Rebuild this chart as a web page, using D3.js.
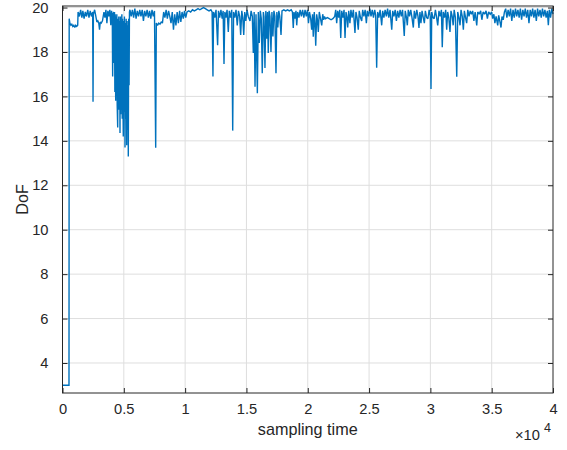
<!DOCTYPE html>
<html>
<head>
<meta charset="utf-8">
<script src="https://cdn.jsdelivr.net/npm/d3@7"></script>
<style>
  body { margin: 0; background: #fff; }
  text { font-family: "Liberation Sans", Arial, Helvetica, sans-serif; fill: #262626; }
</style>
</head>
<body>
<svg id="chart" width="567" height="450"></svg>
<script>
"use strict";

// DoF over sampling time as [sample, dof]
var dofSeries = [
  [0,3],[530,3],[545,19.5],[600,19.3],[680,19.2],[760,19.25],[840,19.15],[920,19.2],[1000,19.1],[1080,19.2],[1160,19.15],[1240,19.2],
  [1270,19.8],[1380,19.6],[1480,19.9],[1580,19.55],[1660,19.85],[1760,19.5],[1860,19.8],[1960,19.6],[2060,19.9],[2160,19.55],[2260,19.85],[2360,19.6],[2460,19.8],
  [2490,15.76],[2520,19.7],[2620,19.9],[2720,19.6],[2800,19.35],[2880,19.4],[2960,19.3],[3020,19.0],[3080,19.35],[3160,19.3],[3260,19.4],
  [3380,19.8],[3460,19.55],[3540,19.9],[3620,19.3],[3700,19.85],[3780,19.6],[3860,19.9],[3940,19.2],[4000,19.85],[4060,19.6],
  [4090,16.9],[4120,19.7],[4180,19.8],[4210,17.5],[4240,19.8],[4270,16.2],[4300,19.7],[4338,15.8],[4370,19.6],[4400,16.5],[4430,19.7],[4460,15.6],
  [4501,14.6],[4530,19.5],[4560,16.0],[4590,19.6],[4620,15.4],[4650,19.4],[4689,14.35],[4720,19.6],[4750,15.2],[4780,19.3],[4810,16.0],[4840,19.7],
  [4870,15.0],[4900,19.5],[4930,15.8],[4958,14.2],[4990,19.4],[5020,15.3],[5050,19.6],[5097,13.7],[5130,19.3],[5160,15.0],[5190,19.5],[5235,13.8],
  [5270,19.4],[5300,14.5],[5330,19.2],[5366,13.3],[5400,19.5],[5430,16.5],[5460,19.8],
  [5500,19.9],[5600,19.6],[5700,19.9],[5800,19.55],[5900,19.95],[6000,19.5],[6100,19.85],[6200,19.6],[6300,19.9],[6400,19.6],[6500,19.9],[6600,19.4],
  [6700,19.85],[6800,19.6],[6900,19.9],[7000,19.55],[7100,19.85],[7200,19.5],[7300,19.9],[7400,19.6],[7500,19.85],
  [7600,13.69],[7650,19.3],[7750,19.2],[7850,19.3],[7950,19.25],[8050,19.35],[8150,19.3],
  [8250,19.8],[8350,19.55],[8450,19.9],[8550,19.5],[8650,19.85],[8750,19.6],[8850,19.3],[8950,19.8],[9050,19.0],[9150,19.7],[9250,19.2],[9350,19.8],
  [9450,19.3],[9550,19.85],[9650,19.35],[9750,19.8],[9850,19.5],[9950,19.85],[10050,19.55],[10150,19.8],
  [10300,19.85],[10450,19.8],[10600,19.9],[10750,19.85],[10900,19.9],[11050,19.95],[11200,19.9],[11350,19.95],[11500,20.0],[11650,19.95],[11800,19.9],
  [11950,19.85],[12100,19.9],[12200,19.8],
  [12270,16.9],[12320,19.8],[12420,19.55],[12520,19.9],[12650,18.3],[12720,19.85],[12820,19.55],[12920,19.9],[13020,19.5],[13100,19.85],[13170,17.46],
  [13240,19.8],[13330,19.55],[13420,19.9],[13520,18.9],[13600,19.85],[13700,19.55],[13800,19.9],[13880,14.46],[13950,19.8],[14050,19.55],[14150,19.9],
  [14250,19.2],[14350,19.85],[14450,19.6],[14530,18.77],[14620,19.85],[14700,19.55],[14780,18.77],[14860,19.8],[14950,19.4],[15050,19.9],[15150,19.6],
  [15290,19.4],[15380,19.85],[15480,19.6],[15560,17.95],[15630,19.8],[15700,16.44],[15780,19.7],[15890,16.14],[15970,19.8],[16050,18.4],[16130,19.85],
  [16210,19.5],[16290,17.04],[16380,19.8],[16430,19.6],[16510,17.28],[16580,19.85],[16660,18.6],[16720,19.8],[16780,17.95],[16850,19.85],[16920,19.6],
  [17000,18.0],[17080,19.8],[17160,18.7],[17240,19.85],[17320,19.6],[17410,17.04],[17480,19.8],[17560,19.1],[17640,19.85],[17720,19.6],[17820,18.77],
  [17900,19.85],[18050,19.9],[18200,19.85],[18350,19.9],[18500,19.85],[18650,19.9],[18750,19.8],[18820,19.08],[18880,19.8],[18960,19.5],[19040,19.85],
  [19100,19.2],[19180,19.8],[19280,19.55],[19380,19.9],[19480,19.6],[19580,19.9],[19680,19.55],[19780,19.9],[19880,19.6],[19980,19.9],
  [20060,19.3],[20140,19.8],[20240,19.5],[20320,19.0],[20390,19.7],[20450,18.69],[20530,19.8],[20590,19.3],[20650,18.28],[20730,19.7],[20800,19.4],
  [20860,18.9],[20940,19.8],[21040,19.5],[21140,19.2],[21220,19.7],[21300,19.45],[21360,19.6],
  [21450,19.5],[21600,19.55],[21750,19.5],[21900,19.45],[22050,19.5],[22200,19.6],
  [22280,19.9],[22360,19.3],[22440,19.85],[22530,19.55],[22610,19.9],[22690,18.63],[22770,19.85],[22870,19.55],[22960,19.9],[23040,18.63],[23120,19.8],
  [23200,19.55],[23260,19.1],[23340,19.85],[23440,19.3],[23520,19.9],[23620,19.55],[23720,19.9],[23850,18.86],[23930,19.8],[24020,19.55],[24120,19.0],
  [24200,19.85],[24300,19.55],[24400,19.4],[24480,19.9],[24580,19.6],[24680,19.9],[24780,19.3],[24860,19.85],[24960,19.6],[25060,19.95],[25160,19.6],
  [25260,19.9],[25360,19.55],[25460,19.9],[25540,19.65],[25620,17.29],[25700,19.8],[25800,19.55],[25900,19.9],[26030,19.2],[26110,19.85],[26210,19.55],
  [26310,19.9],[26410,19.6],[26510,19.95],[26610,19.55],[26710,19.9],[26850,19.0],[26930,19.85],[27030,19.6],[27130,19.9],[27230,19.4],[27330,19.85],
  [27430,19.55],[27530,19.9],[27630,19.6],[27730,19.9],[27870,18.72],[27950,19.85],[28050,19.55],[28120,19.2],[28200,19.9],[28300,19.6],[28400,19.9],
  [28500,19.55],[28610,19.1],[28690,19.85],[28790,19.5],[28890,19.9],[28990,19.6],[29070,19.08],[29150,19.8],[29230,19.3],[29320,19.85],[29420,19.55],
  [29510,19.3],[29590,19.85],[29700,19.55],[29800,19.5],[29900,19.9],[29990,19.6],
  [30050,16.33],[30110,19.8],[30210,19.55],[30310,19.5],[30410,19.9],[30510,19.55],[30600,19.2],[30700,19.85],[30800,19.6],[30900,19.9],[30970,18.21],
  [31050,19.8],[31150,19.55],[31250,19.9],[31330,19.0],[31410,19.8],[31500,19.55],[31600,18.9],[31680,19.85],[31780,19.6],[31860,19.2],[31940,19.9],
  [32040,19.55],[32150,16.89],[32230,19.8],[32330,19.55],[32420,19.2],[32500,19.9],[32600,19.6],[32690,19.0],[32770,19.85],[32870,19.55],[32960,19.3],
  [33050,19.9],[33150,19.6],[33250,19.85],[33350,19.7],[33450,19.85],[33550,19.4],[33650,19.8],[33780,19.2],[33860,19.8],[33980,19.7],[34100,19.85],
  [34200,19.45],[34300,19.8],[34420,19.7],[34540,19.85],[34650,19.5],[34750,19.8],[34880,19.7],[35000,19.8],
  [35080,19.5],[35180,19.7],[35260,19.3],[35360,19.6],[35490,19.2],[35570,19.65],[35660,19.4],[35760,19.1],[35840,19.6],[35940,19.45],[36040,19.8],
  [36140,19.95],[36240,19.55],[36340,19.9],[36440,19.6],[36540,19.95],[36640,19.4],[36740,19.9],[36840,19.55],[36940,19.95],[37040,19.6],[37140,19.9],
  [37240,19.55],[37340,19.95],[37440,19.45],[37540,19.9],[37640,19.6],[37740,19.95],[37840,19.55],[37940,19.9],[38040,19.3],[38140,19.9],[38240,19.6],
  [38340,19.95],[38440,19.55],[38540,19.9],[38640,19.4],[38740,19.95],[38840,19.6],[38940,19.9],[39040,19.55],[39140,19.95],[39240,19.6],[39340,19.9],
  [39440,19.55],[39540,19.85],[39620,19.2],[39700,19.9],[39800,19.55],[39900,19.95],[40000,19.7]
];

var xTicks = [0, 5000, 10000, 15000, 20000, 25000, 30000, 35000, 40000];
var xTickLabels = ["0", "0.5", "1", "1.5", "2", "2.5", "3", "3.5", "4"];
var yTicks = [4, 6, 8, 10, 12, 14, 16, 18, 20];

function drawChart() {
  var svg = d3.select("#chart");
  var plotLeft = 62.5, plotRight = 553, plotTop = 6, plotBottom = 393;
  var axisColor = "#262626";

  var x = d3.scaleLinear().domain([0, 40000]).range([plotLeft, plotRight]);
  var y = d3.scaleLinear().domain([2.649, 20.07]).range([plotBottom, plotTop]);

  // grid
  var grid = svg.append("g").attr("class", "grid");
  grid.selectAll("line.vgrid").data(xTicks.slice(1, -1)).enter().append("line")
    .attr("x1", function (d) { return x(d); })
    .attr("x2", function (d) { return x(d); })
    .attr("y1", plotTop).attr("y2", plotBottom)
    .style("stroke", "#dedede").style("stroke-width", 1);
  grid.selectAll("line.hgrid").data(yTicks).enter().append("line")
    .attr("x1", plotLeft).attr("x2", plotRight)
    .attr("y1", function (d) { return y(d); })
    .attr("y2", function (d) { return y(d); })
    .style("stroke", "#dedede").style("stroke-width", 1);

  // data line
  var line = d3.line()
    .x(function (d) { return x(d[0]); })
    .y(function (d) { return y(d[1]); });

  svg.append("path")
    .datum(dofSeries)
    .attr("d", line)
    .style("fill", "none")
    .style("stroke", "#0072BD")
    .style("stroke-width", 1.4)
    .style("stroke-linejoin", "miter")
    .style("stroke-miterlimit", 2);

  // axes (box on, ticks inward on all four sides)
  var xAxisBottom = d3.axisBottom(x).tickValues(xTicks)
    .tickFormat(function (d, i) { return xTickLabels[i]; })
    .tickSizeInner(-5).tickSizeOuter(0).tickPadding(11);
  var xAxisTop = d3.axisTop(x).tickValues(xTicks).tickFormat("")
    .tickSizeInner(-5).tickSizeOuter(0);
  var yAxisLeft = d3.axisLeft(y).tickValues(yTicks)
    .tickSizeInner(-5).tickSizeOuter(0).tickPadding(14);
  var yAxisRight = d3.axisRight(y).tickValues(yTicks).tickFormat("")
    .tickSizeInner(-5).tickSizeOuter(0);

  function styleAxis(g) {
    g.select(".domain").remove();
    g.selectAll(".tick line").style("stroke", axisColor);
    g.selectAll(".tick text")
      .style("font-family", "'Liberation Sans', Arial, sans-serif")
      .style("font-size", "14.7px")
      .style("fill", axisColor);
  }

  svg.append("g").attr("transform", "translate(0," + plotBottom + ")").call(xAxisBottom).call(styleAxis);
  svg.append("g").attr("transform", "translate(0," + plotTop + ")").call(xAxisTop).call(styleAxis);
  svg.append("g").attr("transform", "translate(" + plotLeft + ",0)").call(yAxisLeft).call(styleAxis);
  svg.append("g").attr("transform", "translate(" + plotRight + ",0)").call(yAxisRight).call(styleAxis);

  svg.append("rect")
    .attr("x", plotLeft).attr("y", plotTop)
    .attr("width", plotRight - plotLeft).attr("height", plotBottom - plotTop)
    .style("fill", "none")
    .style("stroke", axisColor)
    .style("stroke-width", 1);

  // labels
  svg.append("text")
    .text("sampling time")
    .attr("x", (plotLeft + plotRight) / 2)
    .attr("y", 435)
    .attr("text-anchor", "middle")
    .style("font-size", "16.2px");

  svg.append("text")
    .text("DoF")
    .attr("transform", "translate(28," + ((plotTop + plotBottom) / 2) + ") rotate(-90)")
    .attr("text-anchor", "middle")
    .style("font-size", "16.2px");

  var expo = svg.append("text")
    .attr("x", 515)
    .attr("y", 440)
    .style("font-size", "14.7px");
  expo.append("tspan").text("\u00d7");
  expo.append("tspan").text("10");
  expo.append("tspan").text("4").attr("dx", 4).attr("dy", -8).style("font-size", "12.5px");
}

drawChart();
</script>
</body>
</html>
